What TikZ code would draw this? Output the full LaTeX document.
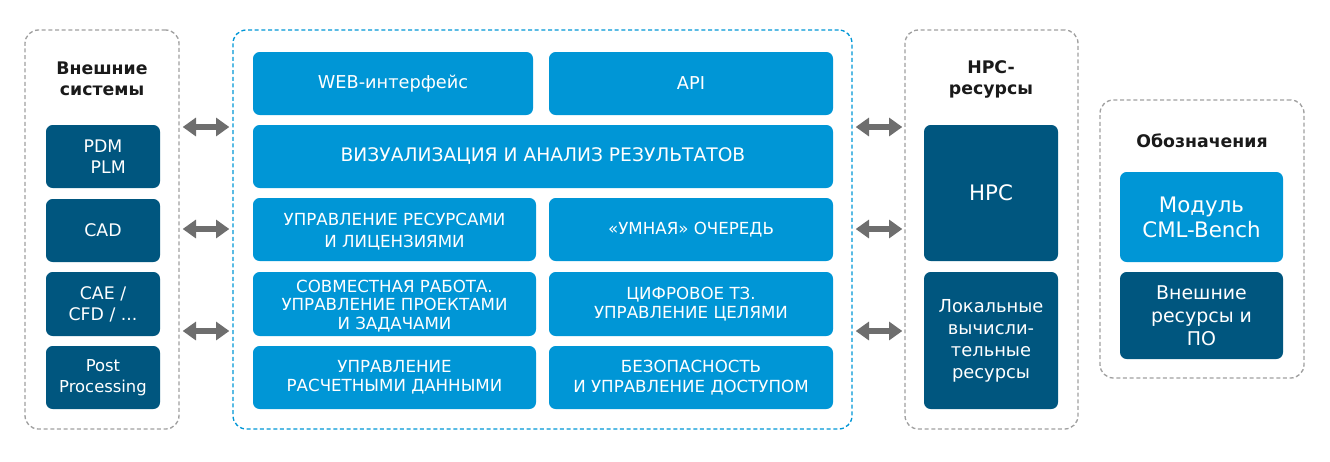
\documentclass[tikz,border=0pt]{standalone}
\usepackage{fontspec}
\setmainfont{DejaVu Sans}
\usetikzlibrary{fit,arrows.meta}
\definecolor{lb}{HTML}{0096D6}
\definecolor{db}{HTML}{00567F}
\definecolor{gr}{HTML}{A0A0A0}
\definecolor{arc}{HTML}{6E6E6E}
\definecolor{ttl}{HTML}{1A1A1A}
\tikzset{
  lbox/.style={fill=lb, rounded corners=5pt, inner sep=0pt},
  dbox/.style={fill=db, rounded corners=5pt, inner sep=0pt},
  wtxt/.style={text=white, align=center, inner sep=0pt},
  grp/.style={draw=gr, dashed, dash pattern=on 3pt off 2pt, line width=1pt, rounded corners=10pt, inner sep=0pt},
  bgrp/.style={draw=lb, dashed, dash pattern=on 3pt off 2pt, line width=1pt, rounded corners=10pt, inner sep=0pt},
  ttlstyle/.style={text=ttl, align=center, font=\bfseries\fontsize{13}{15.75}\selectfont},
  dar/.style={draw=arc, line width=4.3pt, {Triangle[length=10pt,width=13.5pt]}-{Triangle[length=10pt,width=13.5pt]}}
}
\begin{document}
\begin{tikzpicture}[x=0.75pt,y=-0.75pt]
\useasboundingbox (0,0) rectangle (1330,461);
% groups
\node[grp, fit={(25,30) (179,429)}] (lg) {};
\node[bgrp, fit={(233,30) (852,429)}] (cg) {};
\node[grp, fit={(905,30) (1078,429)}] (hg) {};
\node[grp, fit={(1100,100) (1304,378)}] (leg) {};
% titles
\node[ttlstyle] (lgt) at (102,79) {Внешние\\системы};
\node[ttlstyle] (hgt) at (991,79) {HPC-\\ресурсы};
\node[ttlstyle] (legt) at (1202,141) {Обозначения};
% left boxes
\node[dbox, fit={(46,125) (160,188)}] (pdm) {};
\node[wtxt, font=\fontsize{13}{15.75}\selectfont] at (pdm.center) {PDM\\\hspace{0.6em}PLM};
\node[dbox, fit={(46,199) (160,262)}] (cad) {};
\node[wtxt, font=\fontsize{13}{15.75}\selectfont] at (cad.center) {CAD};
\node[dbox, fit={(46,272) (160,336)}] (cae) {};
\node[wtxt, font=\fontsize{13}{15.75}\selectfont] at (cae.center) {CAE /\\CFD / ...};
\node[dbox, fit={(46,346) (160,409)}] (post) {};
\node[wtxt, font=\fontsize{12.3}{15.75}\selectfont] at (post.center) {Post\\Processing};
% center boxes
\node[lbox, fit={(253,52) (533,115)}] (web) {};
\node[wtxt, font=\fontsize{13.3}{15}\selectfont] at (web.center) {WEB-интерфейс};
\node[lbox, fit={(549,52) (833,115)}] (api) {};
\node[wtxt, font=\fontsize{13.3}{15}\selectfont] at (api.center) {API};
\node[lbox, fit={(253,125) (833,188)}] (vis) {};
\node[wtxt, font=\fontsize{14}{16}\selectfont] at (vis.center) {ВИЗУАЛИЗАЦИЯ И АНАЛИЗ РЕЗУЛЬТАТОВ};
\node[lbox, fit={(253,198) (536,261)}] (res) {};
\node[wtxt, font=\fontsize{12.5}{16.5}\selectfont] at ([yshift=-1.5pt]res.center) {УПРАВЛЕНИЕ РЕСУРСАМИ\\И ЛИЦЕНЗИЯМИ};
\node[lbox, fit={(549,198) (833,261)}] (que) {};
\node[wtxt, font=\fontsize{12.5}{15}\selectfont] at (que.center) {«УМНАЯ» ОЧЕРЕДЬ};
\node[lbox, fit={(253,272) (536,336)}] (col) {};
\node[wtxt, font=\fontsize{12.5}{14}\selectfont] at ([yshift=-1.5pt]col.center) {СОВМЕСТНАЯ РАБОТА.\\УПРАВЛЕНИЕ ПРОЕКТАМИ\\И ЗАДАЧАМИ};
\node[lbox, fit={(549,272) (833,336)}] (tz) {};
\node[wtxt, font=\fontsize{12.5}{14.5}\selectfont] at (tz.center) {ЦИФРОВОЕ ТЗ.\\УПРАВЛЕНИЕ ЦЕЛЯМИ};
\node[lbox, fit={(253,346) (536,409)}] (dat) {};
\node[wtxt, font=\fontsize{12.5}{14.5}\selectfont] at (dat.center) {УПРАВЛЕНИЕ\\РАСЧЕТНЫМИ ДАННЫМИ};
\node[lbox, fit={(549,346) (833,409)}] (sec) {};
\node[wtxt, font=\fontsize{12.5}{14.5}\selectfont] at (sec.center) {БЕЗОПАСНОСТЬ\\И УПРАВЛЕНИЕ ДОСТУПОМ};
% HPC boxes
\node[dbox, fit={(924,125) (1058,261)}] (hpc) {};
\node[wtxt, font=\fontsize{16}{18}\selectfont] at (hpc.center) {HPC};
\node[dbox, fit={(924,272) (1058,409)}] (loc) {};
\node[wtxt, font=\fontsize{13.4}{16.5}\selectfont] at (loc.center) {Локальные\\вычисли-\\тельные\\ресурсы};
% legend boxes
\node[lbox, fit={(1120,172) (1283,262)}] (mod) {};
\node[wtxt, font=\fontsize{16}{18.75}\selectfont] at (mod.center) {Модуль\\CML-Bench};
\node[dbox, fit={(1120,272) (1283,359)}] (ext) {};
\node[wtxt, font=\fontsize{14.2}{17.25}\selectfont] at (ext.center) {Внешние\\ресурсы и\\ПО};
% arrows
\coordinate (y1) at (0,127);
\coordinate (y2) at (0,229);
\coordinate (y3) at (0,331);
\foreach \k in {1,2,3}{
  \draw[dar] ([xshift=2.25pt]lg.east |- y\k) -- ([xshift=-2.25pt]cg.west |- y\k);
  \draw[dar] ([xshift=2.25pt]cg.east |- y\k) -- ([xshift=-1.5pt]hg.west |- y\k);
}
\end{tikzpicture}
\end{document}
